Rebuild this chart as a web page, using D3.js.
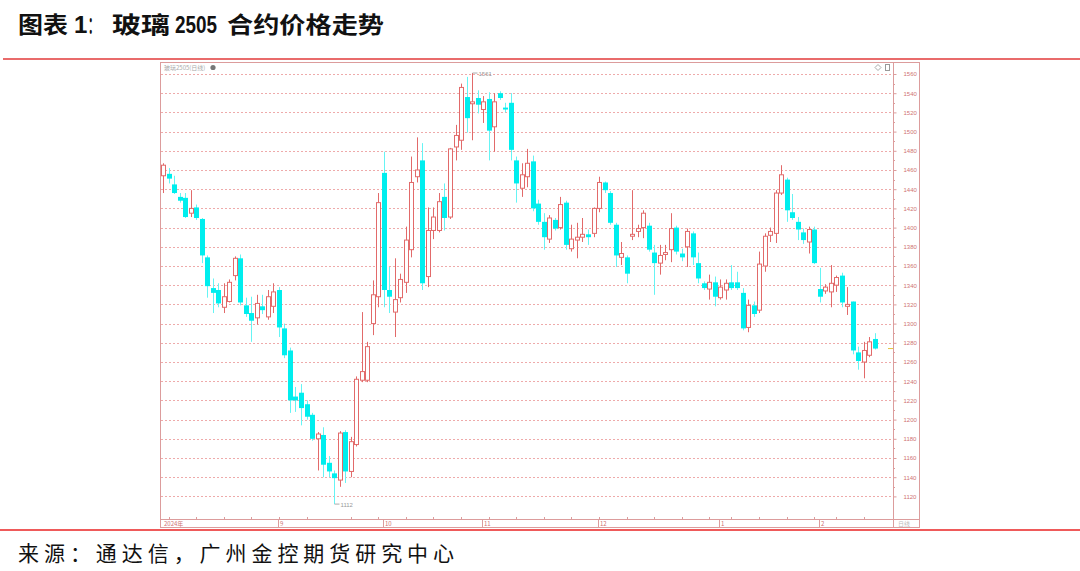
<!DOCTYPE html>
<html><head><meta charset="utf-8">
<script src="https://cdn.jsdelivr.net/npm/d3@7"></script>
<style>body{margin:0;background:#fff}svg{display:block}</style>
</head><body>
<svg id="c" width="1080" height="571"></svg>
<script>
// ---------- DATA ----------
const dates = [
"2024-08-02","2024-08-05","2024-08-06","2024-08-07","2024-08-08","2024-08-09","2024-08-12","2024-08-13","2024-08-14","2024-08-15","2024-08-16",
"2024-08-19","2024-08-20","2024-08-21","2024-08-22","2024-08-23","2024-08-26","2024-08-27","2024-08-28","2024-08-29","2024-08-30",
"2024-09-02","2024-09-03","2024-09-04","2024-09-05","2024-09-06","2024-09-09","2024-09-10","2024-09-11","2024-09-12","2024-09-13",
"2024-09-18","2024-09-19","2024-09-20","2024-09-23","2024-09-24","2024-09-25","2024-09-26","2024-09-27","2024-09-30",
"2024-10-08","2024-10-09","2024-10-10","2024-10-11","2024-10-14","2024-10-15","2024-10-16","2024-10-17","2024-10-18",
"2024-10-21","2024-10-22","2024-10-23","2024-10-24","2024-10-25","2024-10-28","2024-10-29","2024-10-30","2024-10-31",
"2024-11-01","2024-11-04","2024-11-05","2024-11-06","2024-11-07","2024-11-08","2024-11-11","2024-11-12","2024-11-13","2024-11-14","2024-11-15",
"2024-11-18","2024-11-19","2024-11-20","2024-11-21","2024-11-22","2024-11-25","2024-11-26","2024-11-27","2024-11-28","2024-11-29",
"2024-12-02","2024-12-03","2024-12-04","2024-12-05","2024-12-06","2024-12-09","2024-12-10","2024-12-11","2024-12-12","2024-12-13",
"2024-12-16","2024-12-17","2024-12-18","2024-12-19","2024-12-20","2024-12-23","2024-12-24","2024-12-25","2024-12-26","2024-12-27","2024-12-30","2024-12-31",
"2025-01-02","2025-01-03","2025-01-06","2025-01-07","2025-01-08","2025-01-09","2025-01-10","2025-01-13","2025-01-14","2025-01-15","2025-01-16","2025-01-17",
"2025-01-20","2025-01-21","2025-01-22","2025-01-23","2025-01-24","2025-01-27",
"2025-02-05","2025-02-06","2025-02-07","2025-02-10","2025-02-11","2025-02-12","2025-02-13","2025-02-14","2025-02-17","2025-02-18","2025-02-19"
];
const opens = [
1454,1456,1445,1432,1431,1415,1421,1409,1369,1337,1335,1317,1323,1350,1368,1319,1311,1306,1318,1307,1318,
1335,1295,1272,1224,1228,1216,1205,1180,1184,1155,1144,1137,1187,1146,1174,1241,1241,1300,1328,
1457,1335,1312,1327,1343,1377,1453,1470,1349,1397,1397,1432,1411,1484,1491,1536,1529,1535,
1523,1534,1505,1540,1525,1530,1470,1441,1453,1469,1425,1406,1388,1408,1400,1426,1378,1387,1390,1393,1394,
1420,1447,1436,1403,1369,1369,1391,1396,1400,1402,1374,1363,1372,1377,1400,1373,1380,1394,1363,1342,1336,1343,
1327,1335,1343,1343,1332,1296,1319,1314,1360,1392,1394,1436,1450,1416,1406,1395,1385,1398,
1336,1334,1333,1340,1350,1318,1323,1270,1260,1267,1284
];
const highs = [
1467,1462,1454,1436,1436,1439,1424,1410,1371,1347,1342,1342,1346,1370,1372,1327,1328,1330,1330,1335,1342,
1338,1300,1275,1234,1237,1220,1207,1187,1192,1162,1147,1188,1189,1182,1245,1312,1281,1345,1436,
1479,1359,1368,1352,1401,1474,1494,1488,1421,1421,1436,1446,1483,1507,1550,1557,1561,1543,
1537,1541,1540,1542,1530,1540,1474,1467,1482,1475,1429,1415,1413,1410,1432,1428,1403,1405,1410,1398,1421,
1453,1448,1438,1405,1385,1371,1439,1403,1418,1405,1382,1382,1382,1415,1402,1378,1399,1396,1374,1344,1351,1349,
1346,1346,1361,1354,1337,1325,1323,1375,1394,1400,1439,1465,1452,1435,1411,1399,1401,1401,
1358,1341,1361,1350,1353,1338,1323,1276,1281,1286,1290
];
const lows = [
1436,1446,1435,1426,1410,1411,1408,1363,1327,1311,1317,1311,1322,1345,1319,1307,1281,1299,1310,1304,1311,
1286,1264,1207,1208,1194,1200,1178,1147,1140,1140,1112,1130,1134,1140,1172,1239,1239,1288,1317,
1317,1311,1286,1322,1332,1369,1447,1335,1338,1388,1395,1397,1409,1470,1481,1499,1491,1519,
1509,1470,1479,1533,1520,1470,1426,1432,1442,1417,1403,1377,1384,1397,1398,1377,1375,1368,1385,1382,1390,
1416,1436,1403,1359,1361,1342,1387,1390,1389,1375,1330,1351,1366,1364,1372,1365,1359,1361,1342,1335,1325,1318,
1325,1325,1335,1335,1293,1291,1307,1311,1354,1385,1384,1434,1406,1408,1387,1383,1373,1362,
1322,1331,1317,1333,1317,1309,1268,1252,1243,1265,1273
];
const closes = [
1465,1451,1436,1428,1411,1420,1410,1371,1339,1332,1321,1328,1343,1368,1322,1310,1303,1321,1314,1328,1333,
1296,1267,1220,1220,1212,1203,1180,1185,1153,1146,1139,1186,1146,1177,1242,1250,1276,1330,1426,
1335,1328,1325,1346,1387,1447,1460,1342,1397,1411,1427,1410,1482,1496,1546,1514,1531,1528,
1531,1501,1531,1535,1523,1481,1446,1455,1467,1420,1406,1390,1410,1399,1424,1382,1388,1390,1393,1390,1420,
1447,1439,1405,1371,1373,1352,1393,1399,1415,1377,1363,1371,1374,1399,1375,1369,1396,1369,1347,1337,1343,1328,
1338,1342,1337,1337,1295,1319,1310,1362,1391,1396,1436,1455,1418,1410,1398,1387,1398,1363,
1328,1338,1342,1348,1322,1320,1272,1261,1272,1281,1274
];
const priceTicks = [1120,1140,1160,1180,1200,1220,1240,1260,1280,1300,1320,1340,1360,1380,1400,1420,1440,1460,1480,1500,1520,1540,1560];
const monthLabels = ["2024年","9","10","11","12","1","2"];
const monthStarts = ["2024-08-02","2024-09-02","2024-10-08","2024-11-01","2024-12-02","2025-01-02","2025-02-05"];
const chartName = "玻璃2505(日线)";
const maxLabel = "1561", minLabel = "1112";
const titleParts = ["图表","1","：","玻璃","2505","合约价格走势"];
const sourceText = "来源：通达信，广州金控期货研究中心";

// ---------- LAYOUT ----------
const svg = d3.select("#c");
const L = 161, R = 919, T = 62, B = 527, AX = 893, BAND = 519;
const x = d3.scaleBand().domain(dates).range([L, 877]).paddingInner(0.26).paddingOuter(0);
const y = d3.scaleLinear().domain([1120, 1560]).range([496.4, 74]);
const UP = "#e26a6a", DN = "#00eeee", GRID = "#eeaaaa", FRAME = "#dc9c9c", TXT = "#cf7373";

// title: each part placed with its own measured span
const CJK = "'Noto Sans CJK SC'", LAT = "'Liberation Sans', Arial";
const titleSpec = [[18,50,CJK],[74,0,LAT],[88,11,CJK],[112,58,CJK],[175,42,LAT],[227,157,CJK]];
titleParts.forEach((t,i) => {
  const [px, w, f] = titleSpec[i];
  const el = svg.append("text").attr("x", px).attr("y", 33)
    .attr("font-family", f).attr("font-weight", 700).attr("font-size", f===LAT ? 24 : 23)
    .attr("fill", "#111").text(t);
  if (w) el.attr("textLength", w).attr("lengthAdjust", "spacingAndGlyphs");
});

// separator lines
svg.append("line").attr("x1",3).attr("x2",1080).attr("y1",59).attr("y2",59).attr("stroke","#e23a3a").attr("stroke-width",1.6);
svg.append("line").attr("x1",0).attr("x2",1080).attr("y1",530).attr("y2",530).attr("stroke","#ef5a5a").attr("stroke-width",2);

// frame
svg.append("rect").attr("x",L-0.5).attr("y",T+0.5).attr("width",R-L+1).attr("height",B-T).attr("fill","none").attr("stroke",FRAME);
svg.append("line").attr("x1",AX+0.5).attr("x2",AX+0.5).attr("y1",T).attr("y2",B).attr("stroke",FRAME);
svg.append("line").attr("x1",L).attr("x2",R).attr("y1",BAND+0.5).attr("y2",BAND+0.5).attr("stroke",FRAME);

// grid
svg.append("g").selectAll("line").data(priceTicks).join("line")
  .attr("x1",L).attr("x2",AX).attr("y1",d=>Math.round(y(d))+0.5).attr("y2",d=>Math.round(y(d))+0.5)
  .attr("stroke",GRID).attr("stroke-dasharray","2,2");

// right axis
const yAxis = d3.axisRight(y).tickValues(priceTicks).tickSize(3).tickPadding(7).tickFormat(d3.format("d"));
const gA = svg.append("g").attr("transform",`translate(${AX+0.5},0)`).call(yAxis);
gA.select(".domain").remove();
gA.selectAll("line").attr("stroke",FRAME);
gA.selectAll("text").attr("fill",TXT).attr("font-size",6).attr("font-family","Arial, 'Liberation Sans'");
const minor = d3.range(1130, 1560, 20);
svg.append("g").selectAll("line").data(minor).join("line")
  .attr("x1",AX).attr("x2",AX+2).attr("y1",d=>Math.round(y(d))+0.5).attr("y2",d=>Math.round(y(d))+0.5).attr("stroke",FRAME);

// bottom band: month separators and labels
const parse = d3.timeParse("%Y-%m-%d");
monthStarts.forEach((d,i) => {
  const px = Math.round(x(d) + x.bandwidth()/2) - 0.5;
  if (i>0) svg.append("line").attr("x1",px).attr("x2",px).attr("y1",BAND).attr("y2",B).attr("stroke",FRAME);
  svg.append("text").attr("x", i===0 ? L+3 : px+1.5).attr("y",526).attr("font-size",6)
    .attr("font-family","'Noto Sans CJK SC', Arial").attr("fill",TXT).text(monthLabels[i]);
});
// weekly ticks on the band
svg.append("g").selectAll("line").data(dates.filter(d=>parse(d).getDay()===1)).join("line")
  .attr("x1",d=>Math.round(x(d)+x.bandwidth()/2)+0.5).attr("x2",d=>Math.round(x(d)+x.bandwidth()/2)+0.5)
  .attr("y1",BAND-2).attr("y2",BAND).attr("stroke",FRAME);
svg.append("text").attr("x",898).attr("y",526).attr("font-size",6).attr("fill","#bbb")
  .attr("font-family","'Noto Sans CJK SC'").text("日线");

// header inside chart
svg.append("text").attr("x",164).attr("y",70).attr("font-size",6).attr("fill","#aaa")
  .attr("font-family","'Noto Sans CJK SC'").text(chartName);
svg.append("circle").attr("cx",213).attr("cy",67.5).attr("r",2.6).attr("fill","#777");
svg.append("path").attr("d","M878,64.5 L881,67.5 L878,70.5 L875,67.5 Z").attr("fill","none").attr("stroke","#aaa");
svg.append("rect").attr("x",885.5).attr("y",64.5).attr("width",4).attr("height",6).attr("fill","none").attr("stroke","#999");

// candles
const data = dates.map((d,i)=>({d,o:opens[i],h:highs[i],l:lows[i],c:closes[i]}));
const cx = d => Math.round(x(d.d) + x.bandwidth()/2) + 0.5;
const bw = 4;
const g = svg.append("g");
g.selectAll("line.w").data(data).join("line").attr("class","w")
  .attr("x1",cx).attr("x2",cx).attr("y1",d=>y(d.h)).attr("y2",d=>y(d.l))
  .attr("stroke",d=>d.c>=d.o?UP:"#66f4f4").attr("stroke-width",1);
g.selectAll("rect.up").data(data.filter(d=>d.c>=d.o)).join("rect").attr("class","up")
  .attr("x",d=>cx(d)-bw/2).attr("width",bw)
  .attr("y",d=>y(d.c)).attr("height",d=>Math.max(1,y(d.o)-y(d.c)))
  .attr("fill","#fff").attr("stroke",UP).attr("stroke-width",1);
g.selectAll("rect.dn").data(data.filter(d=>d.c<d.o)).join("rect").attr("class","dn")
  .attr("x",d=>cx(d)-bw/2-0.5).attr("width",bw+1)
  .attr("y",d=>y(d.o)).attr("height",d=>Math.max(1.5,y(d.c)-y(d.o)))
  .attr("fill",DN);

// max / min markers
const iMax = d3.maxIndex(highs), iMin = d3.minIndex(lows);
const mx = cx(data[iMax]), mn = cx(data[iMin]);
svg.append("path").attr("d",`M${mx},${y(highs[iMax])} L${mx+5},${y(highs[iMax])}`).attr("stroke","#aaa").attr("fill","none");
svg.append("text").attr("x",mx+6).attr("y",y(highs[iMax])+2.5).attr("font-size",6).attr("fill","#999").attr("font-family","Arial").text(maxLabel);
svg.append("path").attr("d",`M${mn},${y(lows[iMin])} L${mn+5},${y(lows[iMin])}`).attr("stroke","#aaa").attr("fill","none");
svg.append("text").attr("x",mn+6).attr("y",y(lows[iMin])+2.5).attr("font-size",6).attr("fill","#999").attr("font-family","Arial").text(minLabel);

// last price marker
svg.append("line").attr("x1",888).attr("x2",893).attr("y1",y(closes[closes.length-1])).attr("y2",y(closes[closes.length-1]))
  .attr("stroke","#e2c440").attr("stroke-width",1);

// source
svg.append("text").attr("x",18).attr("y",561).attr("font-size",21).attr("font-family","'Noto Sans CJK SC'")
  .attr("fill","#111").attr("textLength",436).attr("lengthAdjust","spacing").text(sourceText);
</script>
</body></html>
